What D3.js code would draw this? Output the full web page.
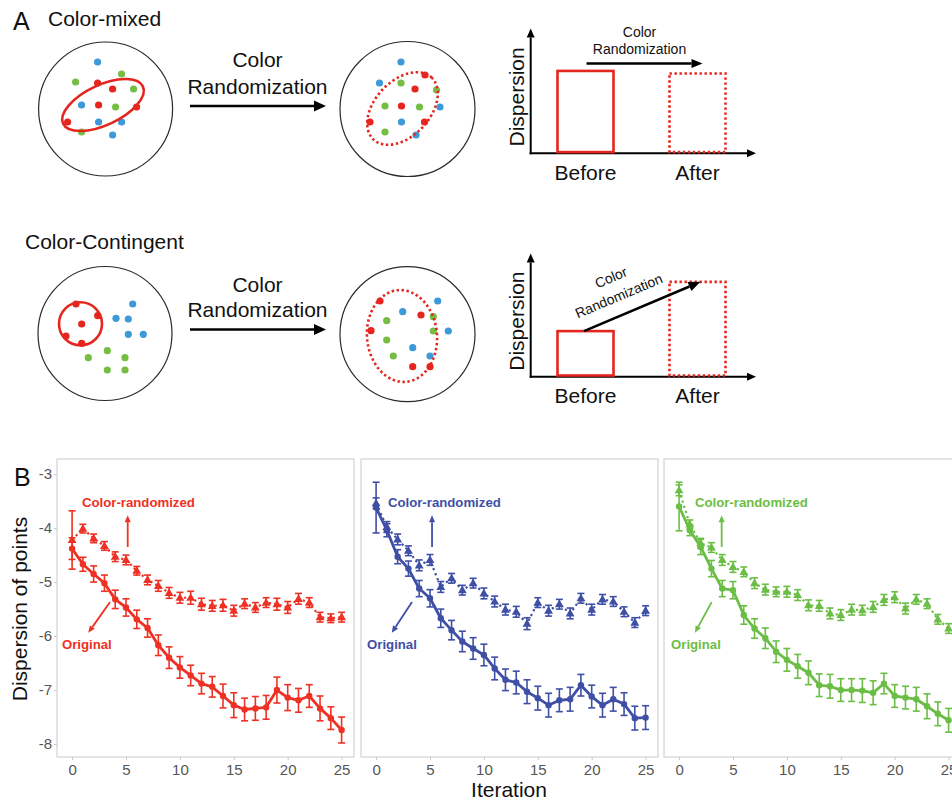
<!DOCTYPE html>
<html>
<head>
<meta charset="utf-8">
<script src="https://cdn.jsdelivr.net/npm/d3@7"></script>
<style>
  body { margin: 0; background: #fff; }
  svg { display: block; }
  text { font-family: "Liberation Sans", Arial, Helvetica, sans-serif; }
</style>
</head>
<body>
<svg id="fig" width="952" height="804"></svg>
<script>
// ---------------- Panel B data: dispersion per iteration ----------------
const iterations = [0,1,2,3,4,5,6,7,8,9,10,11,12,13,14,15,16,17,18,19,20,21,22,23,24,25];
const xTicks = [0, 5, 10, 15, 20, 25];
const yTicks = [-3, -4, -5, -6, -7, -8];

const redOriginal    = [-4.38,-4.67,-4.85,-5.02,-5.32,-5.47,-5.69,-5.85,-6.17,-6.40,-6.58,-6.73,-6.88,-6.94,-7.11,-7.28,-7.36,-7.34,-7.32,-7.00,-7.14,-7.19,-7.11,-7.34,-7.52,-7.74];
const redOriginalErr = [0.20,0.13,0.15,0.15,0.17,0.16,0.17,0.17,0.19,0.20,0.20,0.19,0.19,0.19,0.22,0.23,0.21,0.22,0.22,0.24,0.24,0.22,0.21,0.23,0.21,0.24];
const redRandom      = [-4.22,-4.01,-4.19,-4.33,-4.53,-4.59,-4.79,-4.96,-5.07,-5.20,-5.29,-5.29,-5.41,-5.44,-5.43,-5.53,-5.40,-5.47,-5.38,-5.41,-5.47,-5.31,-5.38,-5.65,-5.67,-5.65];
const redRandomErr   = [0.54,0.08,0.08,0.08,0.09,0.09,0.08,0.09,0.10,0.10,0.10,0.12,0.11,0.10,0.11,0.10,0.09,0.09,0.09,0.11,0.11,0.10,0.09,0.09,0.08,0.09];

const blueOriginal    = [-3.62,-4.04,-4.53,-4.75,-5.12,-5.30,-5.67,-5.89,-6.10,-6.23,-6.35,-6.60,-6.81,-6.86,-7.03,-7.15,-7.28,-7.19,-7.17,-6.91,-7.12,-7.28,-7.17,-7.26,-7.52,-7.51];
const blueOriginalErr = [0.47,0.12,0.13,0.14,0.15,0.16,0.17,0.18,0.19,0.20,0.20,0.21,0.20,0.21,0.22,0.22,0.22,0.21,0.22,0.20,0.21,0.22,0.22,0.21,0.22,0.22];
const blueRandom      = [-3.54,-3.98,-4.21,-4.42,-4.69,-4.59,-5.09,-4.93,-5.15,-5.02,-5.21,-5.36,-5.51,-5.55,-5.77,-5.38,-5.53,-5.41,-5.58,-5.30,-5.51,-5.32,-5.36,-5.55,-5.75,-5.53];
const blueRandomErr   = [0.10,0.10,0.10,0.09,0.10,0.10,0.10,0.09,0.09,0.09,0.10,0.10,0.10,0.10,0.11,0.09,0.10,0.09,0.10,0.09,0.10,0.09,0.09,0.09,0.09,0.09];

const greenOriginal    = [-3.60,-4.04,-4.35,-4.75,-5.12,-5.15,-5.61,-5.86,-6.04,-6.29,-6.44,-6.56,-6.68,-6.91,-6.93,-7.00,-7.00,-7.01,-7.05,-6.88,-7.11,-7.14,-7.17,-7.30,-7.44,-7.56];
const greenOriginalErr = [0.45,0.10,0.14,0.15,0.15,0.16,0.17,0.18,0.19,0.20,0.21,0.22,0.22,0.21,0.22,0.21,0.21,0.22,0.22,0.19,0.21,0.21,0.22,0.23,0.22,0.22];
const greenRandom      = [-3.30,-3.93,-4.28,-4.36,-4.59,-4.72,-4.81,-5.02,-5.14,-5.18,-5.18,-5.24,-5.43,-5.44,-5.58,-5.61,-5.51,-5.52,-5.46,-5.33,-5.28,-5.49,-5.32,-5.40,-5.69,-5.86];
const greenRandomErr   = [0.10,0.08,0.09,0.09,0.10,0.10,0.09,0.10,0.10,0.09,0.10,0.10,0.10,0.10,0.10,0.10,0.10,0.09,0.10,0.10,0.10,0.10,0.09,0.09,0.09,0.09];

// ---------------- Panel A data: schematic dispersion bars ----------------
const barCategories = ["Before", "After"];
const dispersionMixed = [0.66, 0.64];
const dispersionContingent = [0.37, 0.77];

// Schematic dot clouds: offsets from each circle's centre, with colour group
const mixedBefore = [
  [-8,-47,"b"],[-30,-27,"g"],[-8,-26,"r"],[16,-35,"g"],[7,-20,"r"],[28,-20,"g"],
  [-24,-4,"b"],[-7,-4,"r"],[10,-2,"g"],[31,-2,"r"],[-38,13,"r"],[-7,13,"b"],
  [16,13,"b"],[-24,23,"g"],[7,26,"b"]
];
const mixedAfter = [
  [-6.5,-47,"b"],[-28,-26,"b"],[-6.5,-26,"g"],[17.5,-34,"r"],[7.5,-20,"r"],[29,-19,"g"],
  [-22.5,-3,"g"],[-6,-3,"r"],[12,-2,"g"],[32.5,-2,"b"],[-37.5,13,"r"],[-6,13,"b"],
  [17,13,"r"],[-22.5,23,"g"],[8.5,26,"b"]
];
const contingentBefore = [
  [-29,-29.5,"r"],[-7.3,-17.8,"r"],[-23.3,-9.5,"r"],[-39,2.5,"r"],[-23.3,9.8,"r"],
  [27.7,-29.5,"b"],[11,-15.2,"b"],[23.3,-14.5,"b"],[23.3,0.8,"b"],[38.3,0.8,"b"],
  [2.3,17.2,"g"],[-16.7,24.2,"g"],[20,24.2,"g"],[2.3,36.5,"g"],[20,36.5,"g"]
];
const contingentAfter = [
  [-27.5,-33.2,"r"],[30.2,-33.2,"b"],[-4.8,-22.5,"b"],[13.5,-19.2,"r"],[25.8,-17.5,"g"],
  [-20.8,-13.5,"g"],[-36.5,-3.5,"r"],[25.8,-3.2,"g"],[40.8,-3.2,"b"],[-20.8,5.8,"g"],
  [5.2,13.5,"b"],[-14.2,21.8,"g"],[22.5,21.8,"b"],[5.2,32.5,"r"],[22.5,32.5,"r"]
];

const dotColor = { r: "#E5261F", b: "#3D9AD8", g: "#76BD43" };
const FONT = '"Liberation Sans", Arial, Helvetica, sans-serif';

const svg = d3.select("#fig");
svg.append("rect").attr("width", 952).attr("height", 804).attr("fill", "#fff");

// ---- helpers ----
function arrow(g, x1, y1, x2, y2, o) {
  const a = Math.atan2(y2 - y1, x2 - x1);
  const bx = x2 - o.head * Math.cos(a), by = y2 - o.head * Math.sin(a);
  const hw = o.headW / 2;
  g.append("line")
    .attr("x1", x1).attr("y1", y1).attr("x2", bx).attr("y2", by)
    .attr("stroke", o.color).attr("stroke-width", o.width);
  g.append("path")
    .attr("d", `M${x2},${y2}L${bx + hw * Math.sin(a)},${by - hw * Math.cos(a)}L${bx - hw * Math.sin(a)},${by + hw * Math.cos(a)}Z`)
    .attr("fill", o.color);
}

function label(g, x, y, txt, size, opts = {}) {
  return g.append("text")
    .attr("x", x).attr("y", y)
    .attr("font-size", size)
    .attr("font-weight", opts.weight || "normal")
    .attr("text-anchor", opts.anchor || "start")
    .attr("fill", opts.fill || "#111")
    .text(txt);
}

// ================= Panel A =================
const A = svg.append("g");
label(A, 13, 30, "A", 25);
label(A, 48, 26, "Color-mixed", 21);
label(A, 25, 249, "Color-Contingent", 21);

function scatterCircle(g, cx, cy, r, dots) {
  g.append("circle").attr("cx", cx).attr("cy", cy).attr("r", r)
    .attr("fill", "none").attr("stroke", "#2a2a2a").attr("stroke-width", 1.2);
  const sx = d3.scaleLinear().domain([-r, r]).range([cx - r, cx + r]);
  const sy = d3.scaleLinear().domain([-r, r]).range([cy - r, cy + r]);
  g.append("g").selectAll("circle").data(dots).join("circle")
    .attr("cx", d => sx(d[0])).attr("cy", d => sy(d[1])).attr("r", 3.6)
    .attr("fill", d => dotColor[d[2]]);
}

function ring(g, cx, cy, rx, ry, rot, dotted) {
  g.append("ellipse")
    .attr("cx", 0).attr("cy", 0).attr("rx", rx).attr("ry", ry)
    .attr("transform", `translate(${cx},${cy}) rotate(${rot})`)
    .attr("fill", "none").attr("stroke", dotColor.r).attr("stroke-width", 2.6)
    .attr("stroke-dasharray", dotted ? "2.4,2.6" : null);
}

// clouds (drawn first so the rings sit on top)
scatterCircle(A, 105.6, 109, 67, mixedBefore);
ring(A, 103, 105, 44, 20, -25, false);
scatterCircle(A, 407.5, 109, 67.5, mixedAfter);
ring(A, 402.5, 108.5, 42.5, 27.5, -47, true);

scatterCircle(A, 105, 333.5, 67, contingentBefore);
A.append("circle").attr("cx", 80.5).attr("cy", 323.8).attr("r", 21.5)
  .attr("fill", "none").attr("stroke", dotColor.r).attr("stroke-width", 2.6);
scatterCircle(A, 407.5, 334.2, 67.5, contingentAfter);
ring(A, 402, 336, 35, 46, -5, true);

// central transition arrows
[[67, 94, 106], [292, 317, 329.5]].forEach(([y1, y2, ya]) => {
  label(A, 257.5, y1, "Color", 21, { anchor: "middle" });
  label(A, 257.5, y2, "Randomization", 21, { anchor: "middle" });
  arrow(A, 190, ya, 326, ya, { color: "#000", width: 2.5, head: 12, headW: 11 });
});

// schematic bar charts
function dispersionChart(g, values, y0, yTip, arrowKind) {
  const x = d3.scaleBand().domain(barCategories).range([529.5, 753.5]).paddingInner(0.5).paddingOuter(0.25);
  const y = d3.scaleLinear().domain([0, 1]).range([y0, yTip]);
  const ax = 530.7;
  // axes with arrowheads
  arrow(g, ax, y0 + 1, ax, yTip, { color: "#000", width: 2, head: 9, headW: 8 });
  arrow(g, ax - 1, y0, 756, y0, { color: "#000", width: 2, head: 9, headW: 8 });
  values.forEach((v, i) => {
    const c = barCategories[i];
    g.append("rect")
      .attr("x", x(c)).attr("y", y(v))
      .attr("width", x.bandwidth()).attr("height", y(0) - y(v) - 1.2)
      .attr("fill", "none").attr("stroke", dotColor.r).attr("stroke-width", 2.6)
      .attr("stroke-dasharray", i === 1 ? "2.4,2.6" : null);
    label(g, x(c) + x.bandwidth() / 2, y0 + 26.5, c, 21, { anchor: "middle" });
  });
  g.append("text")
    .attr("transform", `translate(${ax - 7},${(y0 + yTip) / 2 + 6}) rotate(-90)`)
    .attr("text-anchor", "middle").attr("font-size", 21).attr("fill", "#111")
    .text("Dispersion");

  const bx = x("Before") + x.bandwidth() / 2, axC = x("After") + x.bandwidth() / 2;
  if (arrowKind === "flat") {
    const ya = y(0.72);
    arrow(g, bx + 1, ya, axC + 5, ya, { color: "#000", width: 2.5, head: 11, headW: 9 });
    label(g, (bx + axC) / 2 - 2, ya - 26.5, "Color", 14, { anchor: "middle" });
    label(g, (bx + axC) / 2 - 2, ya - 9.5, "Randomization", 14, { anchor: "middle" });
  } else {
    const x1 = bx - 1.5, y1 = y(values[0]), x2 = axC + 3, y2 = y(values[1]);
    arrow(g, x1, y1, x2, y2, { color: "#000", width: 2.5, head: 12, headW: 10 });
    const ang = Math.atan2(y2 - y1, x2 - x1) * 180 / Math.PI;
    const t = g.append("g")
      .attr("transform", `translate(${(x1 + x2) / 2},${(y1 + y2) / 2}) rotate(${ang})`);
    label(t, -17.5, -34, "Color", 14, { anchor: "middle" });
    label(t, -17.5, -14, "Randomization", 14, { anchor: "middle" });
  }
}
dispersionChart(A.append("g"), dispersionMixed, 153.3, 28.5, "flat");
dispersionChart(A.append("g"), dispersionContingent, 376.7, 253.5, "rise");

// ================= Panel B =================
const B = svg.append("g");
label(B, 14, 486, "B", 25);

const facetTop = 459, facetH = 298, facetW = 297;
const y = d3.scaleLinear().domain([-8.24, -2.72]).range([facetTop + facetH, facetTop]);

const facets = [
  { left: 57,  color: "#EE3124", orig: redOriginal,   origErr: redOriginalErr,   rand: redRandom,   randErr: redRandomErr,
    notes: { randText: [0.92, -3.61], up: [5.16, -4.35, -3.76], origText: [-0.94, -6.24], diag: [3.52, -5.37, 1.50, -5.94] } },
  { left: 361, color: "#3F4FA6", orig: blueOriginal,  origErr: blueOriginalErr,  rand: blueRandom,  randErr: blueRandomErr,
    notes: { randText: [1.10, -3.61], up: [5.19, -4.35, -3.76], origText: [-0.84, -6.24], diag: [3.33, -5.37, 1.45, -5.94] } },
  { left: 664, color: "#6BBE45", orig: greenOriginal, origErr: greenOriginalErr, rand: greenRandom, randErr: greenRandomErr,
    notes: { randText: [1.47, -3.61], up: [3.95, -4.35, -3.76], origText: [-0.75, -6.24], diag: [3.02, -5.37, 1.47, -5.94] } }
];

const tri = d3.symbol().type(d3.symbolTriangle).size(34);

facets.forEach((f, fi) => {
  const g = B.append("g");
  const x = d3.scaleLinear().domain([-1.4, 26.15]).range([f.left, f.left + facetW]);

  g.append("rect")
    .attr("x", f.left).attr("y", facetTop).attr("width", facetW).attr("height", facetH)
    .attr("fill", "#fff").attr("stroke", "#c9c9c9").attr("stroke-width", 1);

  // x axis
  const xa = g.append("g").attr("transform", `translate(0,${facetTop + facetH})`)
    .call(d3.axisBottom(x).tickValues(xTicks).tickSize(3).tickPadding(4));
  xa.select(".domain").remove();
  xa.selectAll(".tick line").attr("stroke", "#c9c9c9");
  xa.selectAll(".tick text").attr("font-size", 15).attr("fill", "#555").attr("font-family", FONT);

  if (fi === 0) {
    const ya = g.append("g").attr("transform", `translate(${f.left},0)`)
      .call(d3.axisLeft(y).tickValues(yTicks).tickSize(3).tickPadding(2).tickFormat(d3.format("d")));
    ya.select(".domain").remove();
    ya.selectAll(".tick line").attr("stroke", "#c9c9c9");
    ya.selectAll(".tick text").attr("font-size", 15).attr("fill", "#555").attr("font-family", FONT)
      .text(d => "-" + Math.abs(d));
  }

  const series = [
    { vals: f.rand, err: f.randErr, dotted: true },
    { vals: f.orig, err: f.origErr, dotted: false }
  ];
  series.forEach(s => {
    const pts = iterations.map((it, i) => ({ it, v: s.vals[i], e: s.err[i] }));
    // error bars
    const eb = g.append("g").attr("stroke", f.color).attr("stroke-width", 1.6);
    pts.forEach(p => {
      const cx = x(p.it), yt = y(p.v + p.e), yb = y(p.v - p.e);
      eb.append("line").attr("x1", cx).attr("x2", cx).attr("y1", yt).attr("y2", yb);
      eb.append("line").attr("x1", cx - 3.5).attr("x2", cx + 3.5).attr("y1", yt).attr("y2", yt);
      eb.append("line").attr("x1", cx - 3.5).attr("x2", cx + 3.5).attr("y1", yb).attr("y2", yb);
    });
    // line
    g.append("path").datum(pts)
      .attr("d", d3.line().x(p => x(p.it)).y(p => y(p.v)))
      .attr("fill", "none").attr("stroke", f.color)
      .attr("stroke-width", s.dotted ? 2.2 : 2.8)
      .attr("stroke-linejoin", "round")
      .attr("stroke-dasharray", s.dotted ? "2.2,3.2" : null);
    // markers
    if (s.dotted) {
      g.append("g").selectAll("path").data(pts).join("path")
        .attr("d", tri).attr("transform", p => `translate(${x(p.it)},${y(p.v) + 0.5})`)
        .attr("fill", f.color);
    } else {
      g.append("g").selectAll("circle").data(pts).join("circle")
        .attr("cx", p => x(p.it)).attr("cy", p => y(p.v)).attr("r", 3.2)
        .attr("fill", f.color);
    }
  });

  // annotations
  const n = f.notes;
  g.append("text").attr("x", x(n.randText[0])).attr("y", y(n.randText[1]))
    .attr("font-size", 13.2).attr("font-weight", "bold").attr("fill", f.color).text("Color-randomized");
  g.append("text").attr("x", x(n.origText[0])).attr("y", y(n.origText[1]))
    .attr("font-size", 13.2).attr("font-weight", "bold").attr("fill", f.color).text("Original");
  arrow(g, x(n.up[0]), y(n.up[1]), x(n.up[0]), y(n.up[2]), { color: f.color, width: 1.8, head: 7, headW: 6 });
  arrow(g, x(n.diag[0]), y(n.diag[1]), x(n.diag[2]), y(n.diag[3]), { color: f.color, width: 1.8, head: 7, headW: 6 });
});

// shared axis titles
B.append("text")
  .attr("transform", `translate(27,609) rotate(-90)`)
  .attr("text-anchor", "middle").attr("font-size", 21).attr("fill", "#111")
  .text("Dispersion of points");
B.append("text").attr("x", 509).attr("y", 797)
  .attr("text-anchor", "middle").attr("font-size", 21).attr("fill", "#111")
  .text("Iteration");
</script>
</body>
</html>
